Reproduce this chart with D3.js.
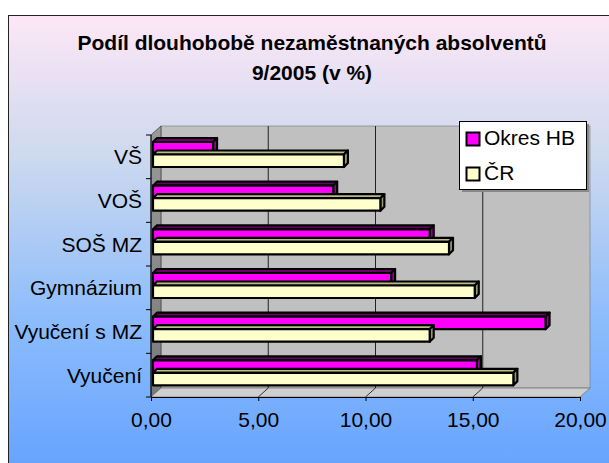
<!DOCTYPE html>
<html><head><meta charset="utf-8">
<script src="https://cdn.jsdelivr.net/npm/d3@7"></script>
<style>body{margin:0;background:#fff}svg{display:block}text{font-family:"Liberation Sans",Arial,sans-serif}</style>
</head><body>
<svg id="c" width="609" height="463"></svg>
<script>
const categories = ["VŠ", "VOŠ", "SOŠ MZ", "Gymnázium", "Vyučení s MZ", "Vyučení"];
const okresHB = [2.8, 8.4, 12.9, 11.1, 18.3, 15.1];
const cr = [8.9, 10.6, 13.8, 15.0, 12.9, 16.8];
const seriesNames = ["Okres HB", "ČR"];
const xTicks = [0, 5, 10, 15, 20];
const titleLines = ["Podíl dlouhobobě nezaměstnaných absolventů", "9/2005 (v %)"];

const svg = d3.select("#c");
const defs = svg.append("defs");
const g = defs.append("linearGradient").attr("id","bg").attr("x1",0).attr("y1",0).attr("x2",0).attr("y2",1);
[[0,"#fde7f6"],[0.3,"#cdd9ee"],[0.65,"#8cbcfc"],[1,"#62a0ff"]].forEach(([o,c])=>g.append("stop").attr("offset",o).attr("stop-color",c));
const lw = defs.append("linearGradient").attr("id","lw").attr("x1",0).attr("y1",0).attr("x2",0).attr("y2",1);
[[0,"#9a9a9a"],[1,"#7a7a7a"]].forEach(([o,c])=>lw.append("stop").attr("offset",o).attr("stop-color",c));

svg.append("rect").attr("x",8.5).attr("y",15.5).attr("width",620).attr("height",470)
  .attr("fill","url(#bg)").attr("stroke","#222").attr("stroke-width",1);

// title
svg.append("text").attr("x",312).attr("y",50).attr("text-anchor","middle")
  .attr("font-size",21).attr("font-weight","bold").selectAll("tspan").data(titleLines).join("tspan")
  .attr("x",312).attr("dy",(d,i)=>i?30:0).text(d=>d);

const DX = 10, DY = -9; // depth offset
const x = d3.scaleLinear().domain([0,20]).range([151,580]);
const y = d3.scaleBand().domain(categories).range([135,397]);
const yTop = 135, yBot = 397;

// back wall
svg.append("rect").attr("x",x(0)+DX).attr("y",yTop+DY).attr("width",x(20)-x(0)).attr("height",yBot-yTop)
  .attr("fill","#c0c0c0").attr("stroke","#777").attr("stroke-width",0.6);
// left wall
svg.append("path").attr("d",`M${x(0)},${yTop}L${x(0)+DX},${yTop+DY}L${x(0)+DX},${yBot+DY}L${x(0)},${yBot}Z`)
  .attr("fill","url(#lw)").attr("stroke","#444").attr("stroke-width",0.8);
// floor
svg.append("path").attr("d",`M${x(0)},${yBot}L${x(0)+DX},${yBot+DY}L${x(20)+DX},${yBot+DY}L${x(20)},${yBot}Z`)
  .attr("fill","#cfcfcf").attr("stroke","#777").attr("stroke-width",0.8);

// gridlines
xTicks.filter(t=>t>0&&t<20).forEach(t=>{
  svg.append("line").attr("x1",x(t)+DX).attr("x2",x(t)+DX).attr("y1",yTop+DY).attr("y2",yBot+DY)
    .attr("stroke","#222").attr("stroke-width",1);
  svg.append("line").attr("x1",x(t)).attr("x2",x(t)+DX).attr("y1",yBot).attr("y2",yBot+DY)
    .attr("stroke","#333").attr("stroke-width",1);
});

// axes
const xAxis = d3.axisBottom(x).tickValues(xTicks).tickSize(4).tickPadding(11)
  .tickFormat(d=>d3.format(".2f")(d).replace(".",","));
const xa = svg.append("g").attr("transform",`translate(0,${yBot})`).call(xAxis);
xa.select(".domain").attr("d",`M${x(0)},0.5H${x(20)}`).attr("stroke","#000");
xa.selectAll("text").attr("font-size",21).attr("fill","#000").attr("font-family","Liberation Sans, Arial, sans-serif");

const ya = svg.append("g").attr("transform",`translate(${x(0)},0)`);
ya.append("line").attr("x1",0).attr("x2",0).attr("y1",yTop).attr("y2",yBot).attr("stroke","#000");
const bounds = categories.map(c=>y(c)).concat([yBot]);
ya.selectAll("line.t").data(bounds).join("line").attr("class","t")
  .attr("x1",-5).attr("x2",0).attr("y1",d=>d).attr("y2",d=>d).attr("stroke","#000");
ya.selectAll("text").data(categories).join("text")
  .attr("x",-9).attr("y",d=>y(d)+y.bandwidth()/2+7.5).attr("text-anchor","end")
  .attr("font-size",21).text(d=>d);

// bars
const bd = 4; // bar depth
const xb = v => x(v)+2;
const series = [
  {name:seriesNames[0], vals:okresHB, front:"#ff00ff", side:"#990099", topc:"#6a006a", off:7},
  {name:seriesNames[1], vals:cr, front:"#ffffcc", side:"#99996b", topc:"#bbbb88", off:19.5}
];
const bh = 12.5;
const barsG = svg.append("g");
categories.forEach((c,i)=>{
  series.forEach(s=>{
    const v = s.vals[i];
    const x0 = xb(0), x1 = xb(v), y0 = y(c)+s.off, y1 = y0+bh;
    const gg = barsG.append("g").attr("stroke","#000").attr("stroke-width",2.2).attr("stroke-linejoin","round");
    gg.append("path").attr("d",`M${x0},${y0}L${x0+bd},${y0-bd}L${x1+bd},${y0-bd}L${x1},${y0}Z`).attr("fill",s.topc);
    gg.append("path").attr("d",`M${x1},${y0}L${x1+bd},${y0-bd}L${x1+bd},${y1-bd}L${x1},${y1}Z`).attr("fill",s.side);
    gg.append("rect").attr("x",x0).attr("y",y0).attr("width",x1-x0).attr("height",bh).attr("fill",s.front);
  });
});

// legend
const lg = svg.append("g").attr("transform","translate(459,121)");
lg.append("rect").attr("x",3).attr("y",3).attr("width",127).attr("height",68).attr("fill","#888");
lg.append("rect").attr("x",0.5).attr("y",0.5).attr("width",127).attr("height",68).attr("fill","#fff").attr("stroke","#000");
series.forEach((s,i)=>{
  lg.append("rect").attr("x",7.5).attr("y",11.5+i*35).attr("width",13).attr("height",13)
    .attr("fill",s.front).attr("stroke","#000").attr("stroke-width",2);
  lg.append("text").attr("x",25).attr("y",24+i*35).attr("font-size",21).text(s.name);
});
</script>
</body></html>
